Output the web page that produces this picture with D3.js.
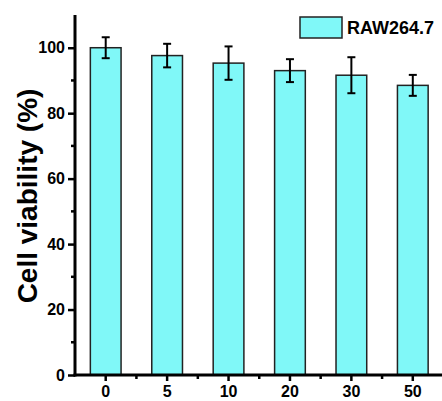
<!DOCTYPE html>
<html>
<head>
<meta charset="utf-8">
<script src="https://cdn.jsdelivr.net/npm/d3@7"></script>
<style>
  body { margin: 0; background: #fff; }
  svg { display: block; font-family: "Liberation Sans", Arial, sans-serif; font-weight: bold; }
</style>
</head>
<body>
<svg id="chart"></svg>
<script>
const width = 442;
const height = 401;

// concentrations and viability (mean, sd)
const doses = ["0", "5", "10", "20", "30", "50"];
const viability = [100, 97.6, 95.3, 93.0, 91.6, 88.5];
const errors = [3.2, 3.6, 5.1, 3.5, 5.5, 3.2];
const yTicks = [0, 20, 40, 60, 80, 100];
const yMinor = [10, 30, 50, 70, 90];
const seriesName = "RAW264.7";

const margin = { top: 15, right: 0, bottom: 26, left: 75 };

const svg = d3.select("#chart")
    .attr("width", width)
    .attr("height", height);

const x = d3.scaleBand()
    .domain(doses)
    .range([margin.left, width + 1.5])
    .paddingInner(0.5)
    .paddingOuter(0.25);

const y = d3.scaleLinear()
    .domain([0, 110])
    .range([height - margin.bottom, margin.top]);

// bars
svg.append("g")
    .selectAll("rect")
    .data(doses)
    .join("rect")
    .attr("x", d => x(d))
    .attr("y", (d, i) => y(viability[i]))
    .attr("width", x.bandwidth())
    .attr("height", (d, i) => y(0) - y(viability[i]))
    .attr("fill", "#80f8f8")
    .attr("stroke", "#222")
    .attr("stroke-width", 1.5);

// error bars
const eb = svg.append("g")
    .attr("stroke", "#000")
    .attr("stroke-width", 2);

doses.forEach((d, i) => {
    const cx = x(d) + x.bandwidth() / 2;
    const hi = y(viability[i] + errors[i]);
    const lo = y(viability[i] - errors[i]);
    eb.append("line").attr("x1", cx).attr("x2", cx).attr("y1", hi).attr("y2", lo);
    eb.append("line").attr("x1", cx - 4).attr("x2", cx + 4).attr("y1", hi).attr("y2", hi);
    eb.append("line").attr("x1", cx - 4).attr("x2", cx + 4).attr("y1", lo).attr("y2", lo);
});

// y axis
const yAxis = svg.append("g")
    .attr("transform", `translate(${margin.left},0)`)
    .call(d3.axisLeft(y).tickValues(yTicks).tickSize(7).tickPadding(3));
yAxis.select(".domain").remove();
yAxis.selectAll(".tick line").attr("stroke-width", 2.5);
yAxis.selectAll(".tick text")
    .attr("font-size", 16)
    .attr("font-family", "Liberation Sans, Arial, sans-serif")
    .attr("font-weight", "bold")
    .attr("fill", "#000");

svg.append("g")
    .selectAll("line")
    .data(yMinor)
    .join("line")
    .attr("x1", margin.left - 4)
    .attr("x2", margin.left)
    .attr("y1", d => y(d))
    .attr("y2", d => y(d))
    .attr("stroke", "#000")
    .attr("stroke-width", 2.5);

// x axis
const xAxis = svg.append("g")
    .attr("transform", `translate(0,${y(0)})`)
    .call(d3.axisBottom(x).tickSize(6).tickPadding(5));
xAxis.select(".domain").remove();
xAxis.selectAll(".tick line").attr("stroke-width", 2.5);
xAxis.selectAll(".tick text")
    .attr("font-size", 16)
    .attr("font-family", "Liberation Sans, Arial, sans-serif")
    .attr("font-weight", "bold")
    .attr("fill", "#000");

// minor ticks between categories
svg.append("g")
    .selectAll("line")
    .data(doses.slice(1))
    .join("line")
    .attr("x1", d => x(d) - x.step() * x.paddingInner() / 2)
    .attr("x2", d => x(d) - x.step() * x.paddingInner() / 2)
    .attr("y1", y(0))
    .attr("y2", y(0) + 4)
    .attr("stroke", "#000")
    .attr("stroke-width", 2.5);

// axis lines
svg.append("line")
    .attr("x1", margin.left).attr("x2", margin.left)
    .attr("y1", y(110)).attr("y2", y(0) + 1.5)
    .attr("stroke", "#000").attr("stroke-width", 3);
svg.append("line")
    .attr("x1", margin.left - 1.5).attr("x2", width)
    .attr("y1", y(0)).attr("y2", y(0))
    .attr("stroke", "#000").attr("stroke-width", 3);

// y title
svg.append("text")
    .attr("transform", `translate(37,${(y(0) + y(110)) / 2 + 1}) rotate(-90)`)
    .attr("text-anchor", "middle")
    .attr("font-size", 28)
    .text("Cell viability (%)");

// legend
const legend = svg.append("g");
legend.append("rect")
    .attr("x", 300).attr("y", 17)
    .attr("width", 42).attr("height", 21)
    .attr("fill", "#80f8f8")
    .attr("stroke", "#222")
    .attr("stroke-width", 1.5);
legend.append("text")
    .attr("x", 347).attr("y", 34)
    .attr("font-size", 18)
    .text(seriesName);
</script>
</body>
</html>
